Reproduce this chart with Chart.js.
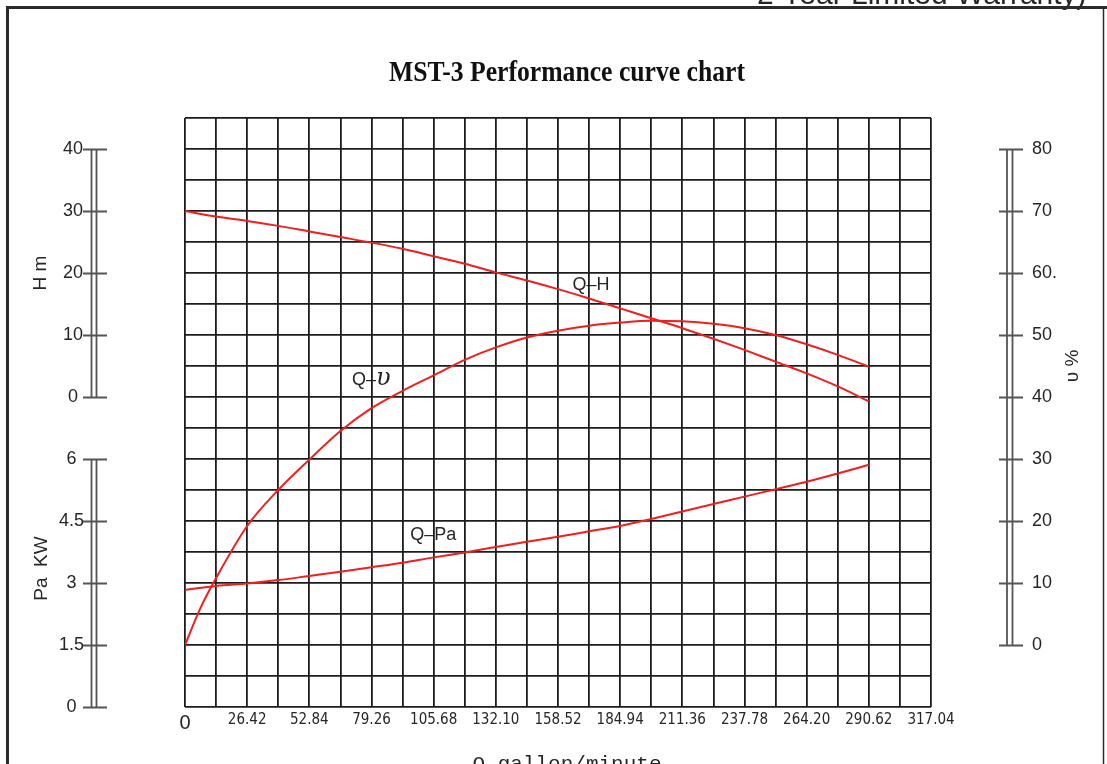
<!DOCTYPE html>
<html>
<head>
<meta charset="utf-8">
<title>MST-3 Performance curve chart</title>
<script src="https://cdn.jsdelivr.net/npm/chart.js@4.4.1/dist/chart.umd.min.js"></script>
<style>
  html, body { margin: 0; padding: 0; background: #fff; }
  #wrap { width: 1107px; height: 764px; overflow: hidden; }
</style>
</head>
<body>
<div id="wrap"><canvas id="pumpChart" width="1107" height="764"></canvas></div>
<script>
// Flow (gallon/minute) at each grid column
const flowValues = [0, 13.21, 26.42, 39.63, 52.84, 66.05, 79.26, 92.47, 105.68, 118.89, 132.10,
  145.31, 158.52, 171.73, 184.94, 198.15, 211.36, 224.57, 237.78, 250.99, 264.20, 277.41, 290.62];
// Q-H head (m)
const headValues = [30, 29.1, 28.4, 27.6, 26.7, 25.8, 24.9, 23.9, 22.7, 21.5, 20.1,
  18.8, 17.4, 15.9, 14.3, 12.7, 11.1, 9.4, 7.6, 5.7, 3.8, 1.7, -0.7];
// Q-Pa shaft power (KW)
const powerValues = [2.83, 2.93, 2.99, 3.07, 3.17, 3.27, 3.38, 3.49, 3.62, 3.74, 3.87,
  4.0, 4.12, 4.25, 4.38, 4.55, 4.73, 4.91, 5.09, 5.27, 5.45, 5.65, 5.86];
// Q-v efficiency (%)
const effFlow = [0, 6.6, 13.21, 26.42, 39.63, 52.84, 66.05, 79.26, 92.47, 105.68, 118.89, 132.10,
  145.31, 158.52, 171.73, 184.94, 198.15, 211.36, 224.57, 237.78, 250.99, 264.20, 277.41, 290.62];
const effValues = [0, 6.0, 10.8, 19.2, 25.0, 29.9, 34.5, 38.2, 41.0, 43.5, 46.0, 48.0,
  49.6, 50.7, 51.5, 52.0, 52.3, 52.2, 51.8, 51.1, 50.0, 48.5, 46.8, 44.9];

// Axis ticks
const flowTicks = [0, 13.21, 26.42, 39.63, 52.84, 66.05, 79.26, 92.47, 105.68, 118.89, 132.10, 145.31,
  158.52, 171.73, 184.94, 198.15, 211.36, 224.57, 237.78, 250.99, 264.20, 277.41, 290.62, 303.83, 317.04];
const flowLabels = ['0', '26.42', '52.84', '79.26', '105.68', '132.10', '158.52', '184.94',
  '211.36', '237.78', '264.20', '290.62', '317.04'];
const headTicks = [0, 10, 20, 30, 40];
const headLabels = ['0', '10', '20', '30', '40'];
const powerTicks = [0, 1.5, 3, 4.5, 6];
const powerLabels = ['0', '1.5', '3', '4.5', '6'];
const effTicks = [0, 10, 20, 30, 40, 50, 60, 70, 80];
const effLabels = ['0', '10', '20', '30', '40', '50', '60.', '70', '80'];

const RED = '#f01e1e';
const GRID = '#1c1c1c';
const AXIS = '#555';
const TEXT = '#262626';
const SANS = '"Liberation Sans", Arial, sans-serif';
const NARROW = '"Liberation Sans Narrow", "DejaVu Sans Condensed", sans-serif';

function pairs(xs, ys) {
  return xs.map((x, i) => ({ x: x, y: ys[i] }));
}

// Double-line axis bars beside the grid
function drawAxisBar(ctx, scale, ticks, xA, xB, tickL, tickR) {
  const top = scale.getPixelForValue(ticks[ticks.length - 1]);
  const bottom = scale.getPixelForValue(ticks[0]);
  ctx.beginPath();
  ctx.moveTo(xA, top); ctx.lineTo(xA, bottom);
  ctx.moveTo(xB, top); ctx.lineTo(xB, bottom);
  ticks.forEach(v => {
    const y = Math.round(scale.getPixelForValue(v)) + 0.5;
    ctx.moveTo(tickL, y); ctx.lineTo(tickR, y);
  });
  ctx.stroke();
}

function vText(ctx, text, x, y) {
  ctx.save();
  ctx.translate(x, y);
  ctx.rotate(-Math.PI / 2);
  ctx.fillText(text, 0, 0);
  ctx.restore();
}

const paperPlugin = {
  id: 'paper',
  beforeDraw(chart) {
    const ctx = chart.ctx;
    ctx.save();
    ctx.fillStyle = '#fff';
    ctx.fillRect(0, 0, chart.width, chart.height);

    // cut-off heading above the frame
    ctx.fillStyle = TEXT;
    ctx.font = '30px ' + SANS;
    ctx.textAlign = 'left';
    ctx.textBaseline = 'alphabetic';
    ctx.fillText('2 Year Limited Warranty)', 757, 4);

    // frame
    ctx.strokeStyle = '#2b2b2b';
    ctx.lineWidth = 3;
    ctx.beginPath();
    ctx.moveTo(7.5, chart.height); ctx.lineTo(7.5, 7.5); ctx.lineTo(chart.width, 7.5);
    ctx.stroke();
    ctx.lineWidth = 1.5;
    ctx.beginPath();
    ctx.moveTo(1103.5, 9); ctx.lineTo(1103.5, chart.height);
    ctx.stroke();

    // title, squeezed like the original type
    const title = 'MST-3 Performance curve chart';
    ctx.fillStyle = '#111';
    ctx.font = 'bold 30px "Liberation Serif", serif';
    const w = ctx.measureText(title).width;
    ctx.translate(567, 73);
    ctx.scale(356 / w, 1);
    ctx.textAlign = 'center';
    ctx.textBaseline = 'middle';
    ctx.fillText(title, 0, 0);
    ctx.restore();
  },
  afterDraw(chart) {
    const ctx = chart.ctx;
    const s = chart.scales;
    ctx.save();
    ctx.strokeStyle = AXIS;
    ctx.lineWidth = 1.8;
    drawAxisBar(ctx, s.yH, headTicks, 91.5, 96.5, 83, 107);
    drawAxisBar(ctx, s.yPa, powerTicks, 91.5, 96.5, 83, 107);
    drawAxisBar(ctx, s.yE, effTicks, 1007, 1012.5, 999, 1023);

    ctx.fillStyle = TEXT;
    ctx.textAlign = 'center';
    ctx.textBaseline = 'middle';
    ctx.font = '19px ' + SANS;
    vText(ctx, 'H m', 41, s.yH.getPixelForValue(20));
    vText(ctx, 'Pa  KW', 42, s.yPa.getPixelForValue(3.35));
    vText(ctx, 'υ %', 1073, s.yE.getPixelForValue(45));

    // curve names
    ctx.font = '18px ' + SANS;
    ctx.fillText('Q–H', s.x.getPixelForValue(172.5), s.yH.getPixelForValue(18.1));
    ctx.fillText('Q–Pa', s.x.getPixelForValue(105.5), s.yPa.getPixelForValue(4.16));
    ctx.textAlign = 'left';
    const qx = s.x.getPixelForValue(71);
    const qy = s.yE.getPixelForValue(42.7);
    ctx.fillText('Q–', qx, qy);
    const qw = ctx.measureText('Q–').width;
    ctx.font = 'italic 24px "DejaVu Serif", serif';
    ctx.fillText('υ', qx + qw, qy - 1);

    // x-axis name, cut by the bottom edge
    ctx.textAlign = 'center';
    ctx.textBaseline = 'top';
    ctx.font = '21px "Liberation Mono", monospace';
    ctx.fillText('Q gallon/minute', 567, 754);
    ctx.restore();
  }
};

// invisible tick marks push the labels away from the grid without adding layout padding
function spacer(len) {
  return { display: true, drawOnChartArea: false, drawTicks: true, tickLength: len, tickColor: 'rgba(0,0,0,0)' };
}

const ctx = document.getElementById('pumpChart').getContext('2d');
new Chart(ctx, {
  type: 'line',
  data: {
    datasets: [
      { label: 'Q-H', data: pairs(flowValues, headValues), yAxisID: 'yH' },
      { label: 'Q-v', data: pairs(effFlow, effValues), yAxisID: 'yE' },
      { label: 'Q-Pa', data: pairs(flowValues, powerValues), yAxisID: 'yPa' }
    ]
  },
  options: {
    responsive: false,
    devicePixelRatio: 1,
    animation: false,
    layout: { padding: { left: 10, right: 0, top: 118, bottom: 0 } },
    elements: {
      line: { borderColor: RED, borderWidth: 2, cubicInterpolationMode: 'monotone', fill: false },
      point: { radius: 0, hoverRadius: 0 }
    },
    plugins: { legend: { display: false }, tooltip: { enabled: false }, title: { display: false } },
    scales: {
      x: {
        type: 'linear',
        position: 'bottom',
        min: 0,
        max: 317.04,
        afterBuildTicks: sc => { sc.ticks = flowTicks.map(v => ({ value: v })); },
        afterFit: sc => { sc.height = 57; },
        grid: { color: GRID, lineWidth: 1.8, drawTicks: false },
        border: { display: false },
        ticks: {
          autoSkip: false,
          maxRotation: 0,
          padding: 4,
          color: TEXT,
          font: c => c.index === 0 ? { family: SANS, size: 20 } : { family: NARROW, size: 15 },
          callback: (v, i) => i % 2 === 0 ? flowLabels[i / 2] : ''
        }
      },
      yE: {
        type: 'linear',
        position: 'right',
        min: -10,
        max: 85,
        afterBuildTicks: sc => {
          const t = [];
          for (let v = -10; v <= 85; v += 5) t.push({ value: v });
          sc.ticks = t;
        },
        afterFit: sc => { sc.width = 176; },
        grid: { color: GRID, lineWidth: 1.8, drawTicks: true, tickLength: 101, tickColor: 'rgba(0,0,0,0)' },
        border: { display: false },
        ticks: {
          autoSkip: false,
          padding: 0,
          color: TEXT,
          font: { family: SANS, size: 18 },
          callback: v => { const i = effTicks.indexOf(v); return i >= 0 ? effLabels[i] : ''; }
        }
      },
      yPa: {
        type: 'linear',
        position: 'left',
        stack: 'left',
        stackWeight: 1,
        min: 0,
        max: 7.125,
        afterBuildTicks: sc => { sc.ticks = powerTicks.map(v => ({ value: v })); },
        afterFit: sc => { sc.width = 175; },
        grid: spacer(101),
        border: { display: false },
        ticks: {
          autoSkip: false,
          padding: 0,
          crossAlign: 'center',
          color: TEXT,
          font: { family: SANS, size: 18 },
          callback: (v, i) => powerLabels[i]
        }
      },
      yH: {
        type: 'linear',
        position: 'left',
        stack: 'left',
        stackWeight: 1,
        min: -2.5,
        max: 45,
        afterBuildTicks: sc => { sc.ticks = headTicks.map(v => ({ value: v })); },
        afterFit: sc => { sc.width = 175; },
        grid: spacer(102),
        border: { display: false },
        ticks: {
          autoSkip: false,
          padding: 0,
          crossAlign: 'center',
          color: TEXT,
          font: { family: SANS, size: 18 },
          callback: (v, i) => headLabels[i]
        }
      }
    }
  },
  plugins: [paperPlugin]
});
</script>
</body>
</html>
